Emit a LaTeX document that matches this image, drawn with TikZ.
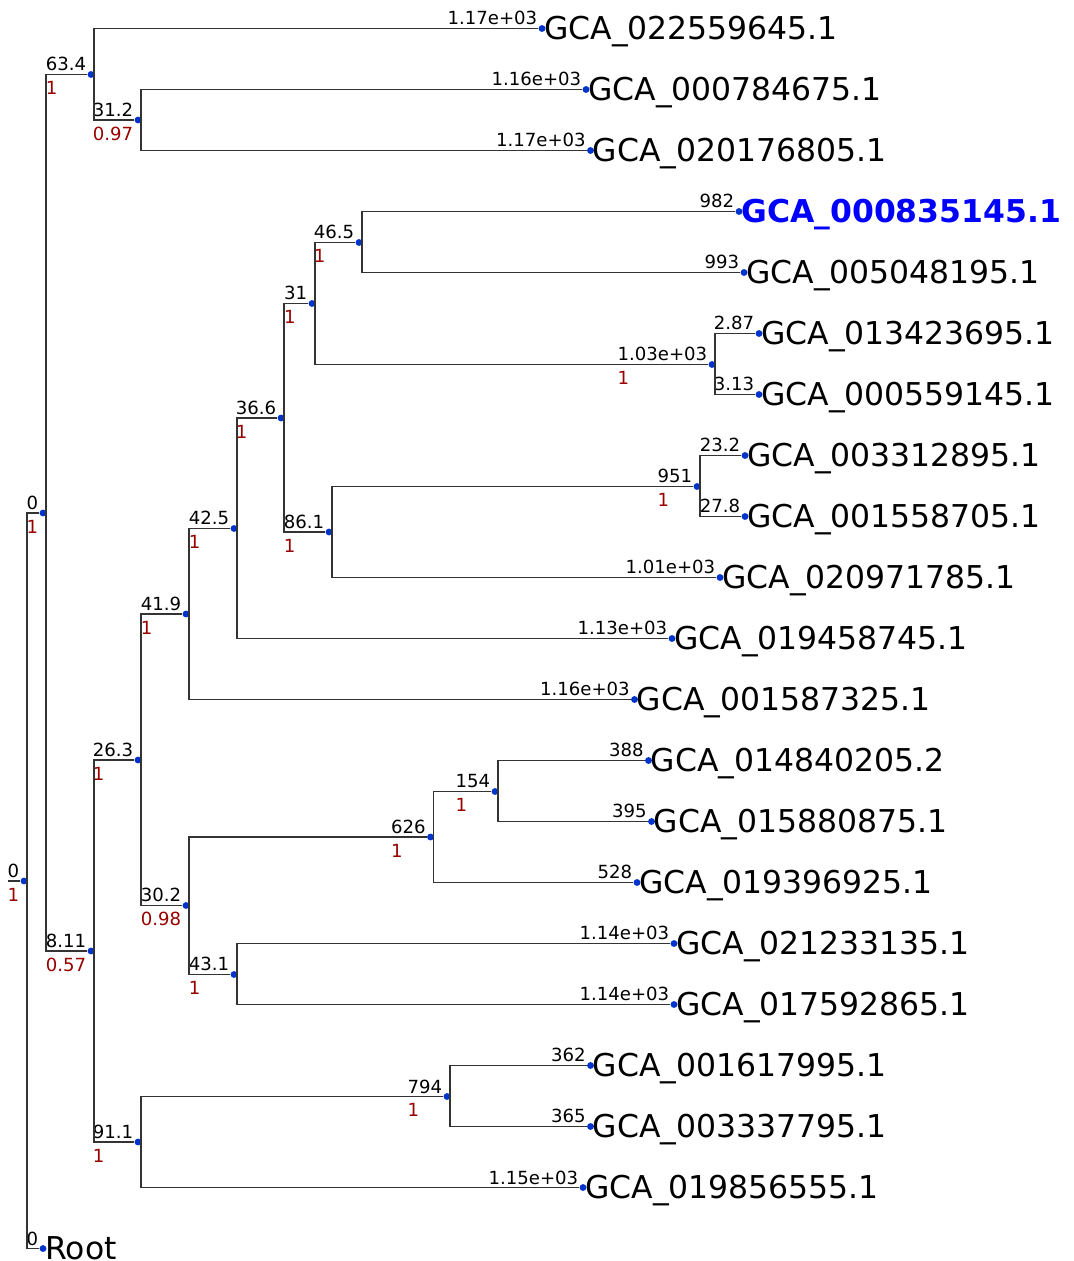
\documentclass[tikz,border=0pt]{standalone}
\usepackage{fontspec}
\setmainfont{DejaVu Sans}
\definecolor{dotblue}{RGB}{0,51,204}
\definecolor{suppred}{RGB}{153,0,0}
\definecolor{hiblue}{RGB}{0,0,255}
\tikzset{
  br/.style={draw=black!80, line width=0.6pt},
  dot/.style={circle, fill=dotblue, inner sep=0pt, minimum size=3.9pt},
  leaf/.style={anchor=base west, inner sep=0pt, font=\fontsize{17.9}{20}\selectfont},
  hilite/.style={leaf, text=hiblue, font=\fontsize{17.9}{20}\selectfont\bfseries},
  blen/.style={anchor=base east, inner sep=0pt, font=\fontsize{10.3}{12}\selectfont},
  supp/.style={anchor=base west, inner sep=0pt, text=suppred, font=\fontsize{10.3}{12}\selectfont},
}

\begin{document}
\begin{tikzpicture}[x=0.02cm, y=-0.02cm]
    \useasboundingbox (0,0) rectangle (1073,1261);

    % inner nodes: name/x/y/branch length/support
    \foreach \nm/\x/\y/\bl/\sp in {i1/24/881/0/1, i2/43/513/0/1, i3/91/74.5/63.4/1,
        i4/138/120/31.2/0.97, i5/91/951/8.11/0.57, i6/138/760/26.3/1, i7/186/614/41.9/1,
        i8/234/528.5/42.5/1, i9/281/418/36.6/1, i10/312/303.5/31/1, i11/359/242.5/46.5/1,
        i12/712/364.5/1.03e+03/1, i13/329/532/86.1/1, i14/697/486.5/951/1,
        i15/186/905.5/30.2/0.98, i16/430.5/837/626/1, i17/495/791.5/154/1,
        i18/234/974.5/43.1/1, i19/138/1142/91.1/1, i20/447/1096.5/794/1} {
        \node[dot] (\nm) at (\x,\y) {};
        \node[blen] (\nm b) at ([xshift=-2.5pt,yshift=2pt]\nm.center) {\bl};
        \node[supp] at ([yshift=-13.5pt]\nm b.base west) {\sp};
    }

    % leaves: name/x/y/branch length/label/style
    \foreach \nm/\x/\y/\bl/\txt/\st in {l1/542/28.5/1.17e+03/GCA\_022559645.1/leaf,
        l2/586/89.5/1.16e+03/GCA\_000784675.1/leaf, l3/590.5/150.5/1.17e+03/GCA\_020176805.1/leaf,
        l4/739/211.5/982/GCA\_000835145.1/hilite, l5/744/272.5/993/GCA\_005048195.1/leaf,
        l6/759/333.5/2.87/GCA\_013423695.1/leaf, l7/759/394.5/3.13/GCA\_000559145.1/leaf,
        l8/745/455.5/23.2/GCA\_003312895.1/leaf, l9/745/516.5/27.8/GCA\_001558705.1/leaf,
        l10/720/577.5/1.01e+03/GCA\_020971785.1/leaf, l11/672/638.5/1.13e+03/GCA\_019458745.1/leaf,
        l12/634.5/699.5/1.16e+03/GCA\_001587325.1/leaf, l13/648.5/760.5/388/GCA\_014840205.2/leaf,
        l14/651.5/821.5/395/GCA\_015880875.1/leaf, l15/637/882.5/528/GCA\_019396925.1/leaf,
        l16/674/943.5/1.14e+03/GCA\_021233135.1/leaf, l17/674/1004.5/1.14e+03/GCA\_017592865.1/leaf,
        l18/590.5/1065.5/362/GCA\_001617995.1/leaf, l19/590.5/1126.5/365/GCA\_003337795.1/leaf,
        l20/583/1187.5/1.15e+03/GCA\_019856555.1/leaf, root/43/1248.5/0/Root/leaf} {
        \node[dot] (\nm) at (\x,\y) {};
        \node[blen] at ([xshift=-2.5pt,yshift=2pt]\nm.center) {\bl};
        \node[\st] (\nm t) at ([xshift=1.1pt,yshift=-6.5pt]\nm.center) {\txt};
    }

    \coordinate (stub) at (8,881);
    \draw[br] (stub) -- (i1);

    \foreach \p/\c in {i1/i2, i1/root, i2/i3, i2/i5, i3/l1, i3/i4, i4/l2, i4/l3,
        i5/i6, i5/i19, i6/i7, i6/i15, i7/i8, i7/l12, i8/i9, i8/l11, i9/i10, i9/i13,
        i10/i11, i10/i12, i11/l4, i11/l5, i12/l6, i12/l7, i13/i14, i13/l10,
        i14/l8, i14/l9, i15/i16, i15/i18, i16/i17, i16/l15, i17/l13, i17/l14,
        i18/l16, i18/l17, i19/i20, i19/l20, i20/l18, i20/l19} {
        \draw[br] ([xshift=1.7pt]\p.center) |- (\c);
    }

\end{tikzpicture}
\end{document}
